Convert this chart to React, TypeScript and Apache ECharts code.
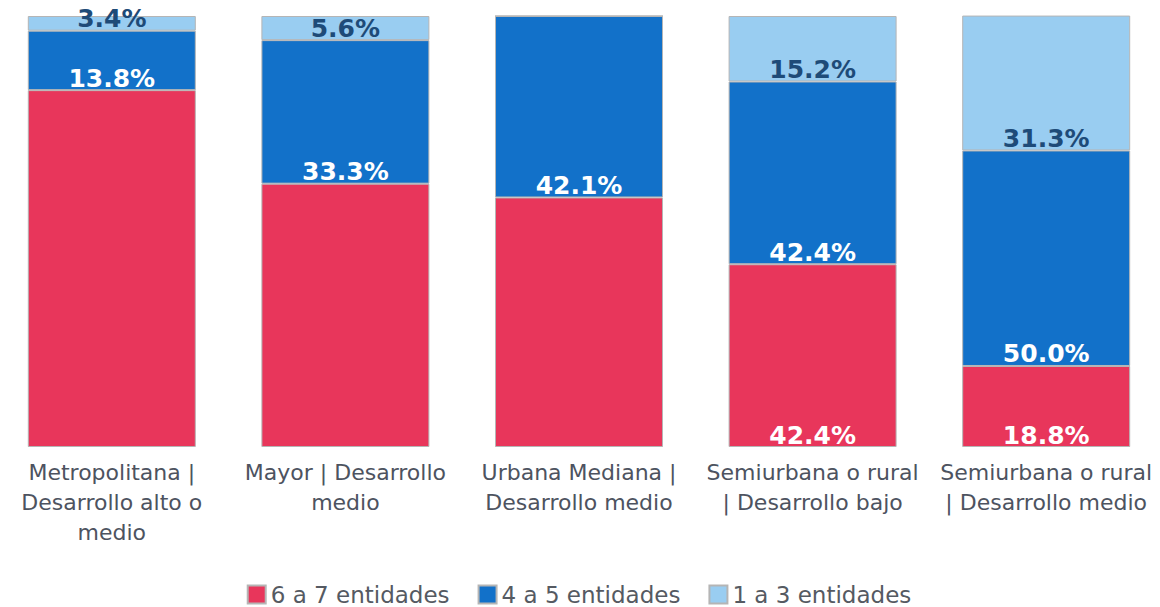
import React, { useEffect, useRef } from "react";
import * as echarts from "echarts";

const categories = [
  "Metropolitana |\nDesarrollo alto o\nmedio",
  "Mayor | Desarrollo\nmedio",
  "Urbana Mediana |\nDesarrollo medio",
  "Semiurbana o rural\n| Desarrollo bajo",
  "Semiurbana o rural\n| Desarrollo medio",
];
const seriesNames = ["6 a 7 entidades", "4 a 5 entidades", "1 a 3 entidades"];
const high = [82.8, 61.1, 57.9, 42.4, 18.8];
const mid = [13.8, 33.3, 42.1, 42.4, 50.0];
const low = [3.4, 5.6, 0, 15.2, 31.3];
const highLabelShown = [false, false, false, true, true];

const colors = ["#E8365B", "#1271C9", "#99CDF1"];
const labelColors = ["#ffffff", "#ffffff", "#1E4B78"];

export default function App() {
  const ref = useRef<HTMLDivElement>(null);
  useEffect(() => {
    if (!ref.current) return;
    const chart = echarts.init(ref.current, null, { renderer: "svg" });
    const mk = (name: string, vals: number[], i: number, shown?: boolean[]) => ({
      name,
      type: "bar",
      stack: "total",
      barWidth: 168,
      itemStyle: { color: colors[i], borderColor: "#b5b5b5", borderWidth: 1 },
      label: {
        show: true,
        position: "insideBottom",
        distance: 0,
        color: labelColors[i],
        fontFamily: "DejaVu Sans",
        fontWeight: "bold",
        fontSize: 25,
        lineHeight: 24,
        formatter: (p: any) => p.value.toFixed(1) + "%",
      },
      data: vals.map((v, k) => ({
        value: v,
        label: { show: v > 0 && (shown ? shown[k] : true) },
      })),
    });
    chart.setOption({
      animation: false,
      grid: { left: 0, right: 0, top: 16, bottom: 160, containLabel: false },
      legend: {
        data: seriesNames,
        top: 578,
        left: "center",
        itemWidth: 18,
        itemHeight: 18,
        itemGap: 28,
        icon: "rect",
        textStyle: { fontFamily: "DejaVu Sans", fontSize: 23, lineHeight: 23, color: "#555a62" },
      },
      xAxis: {
        type: "category",
        data: categories,
        axisLine: { show: false },
        axisTick: { show: false },
        axisLabel: {
          interval: 0,
          margin: 10,
          fontFamily: "DejaVu Sans",
          fontSize: 22,
          lineHeight: 30,
          color: "#4d5360",
          align: "center",
        },
      },
      yAxis: { type: "value", min: 0, max: 100, show: false, splitLine: { show: false } },
      series: [
        mk(seriesNames[0], high, 0, highLabelShown),
        mk(seriesNames[1], mid, 1),
        mk(seriesNames[2], low, 2),
      ],
    });
    return () => chart.dispose();
  }, []);
  return (
    <div
      ref={ref}
      style={{ position: "absolute", left: -5, top: 0, width: 1168, height: 607, background: "#fff" }}
    />
  );
}
